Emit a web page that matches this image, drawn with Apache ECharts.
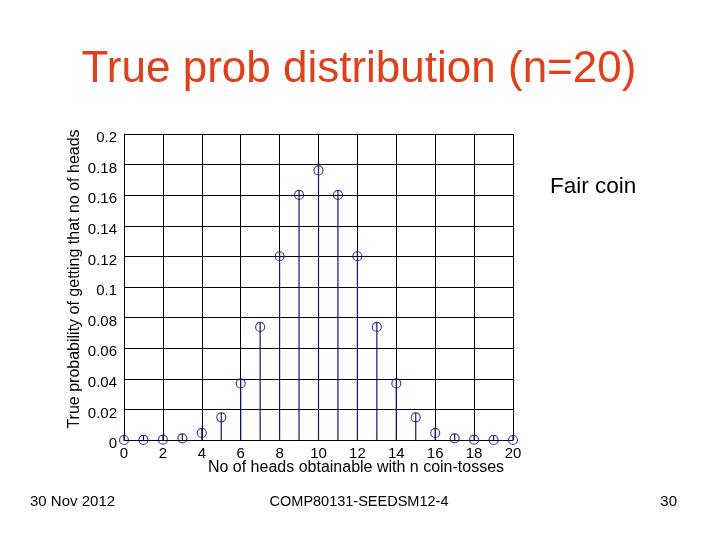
<!DOCTYPE html>
<html><head><meta charset="utf-8">
<script src="https://cdn.jsdelivr.net/npm/echarts@6/dist/echarts.min.js"></script>
<style>html,body{margin:0;padding:0;background:#fff}#c{width:720px;height:540px}</style>
</head><body><div id="c"></div>
<script>
const heads = [0,1,2,3,4,5,6,7,8,9,10,11,12,13,14,15,16,17,18,19,20];
const probs = [0.000001,0.00002,0.0002,0.0011,0.0046,0.0148,0.037,0.0739,0.1201,0.1602,0.1762,0.1602,0.1201,0.0739,0.037,0.0148,0.0046,0.0011,0.0002,0.00002,0.000001];
const titleText = 'True prob distribution (n=20)';
const yName = 'True probability of getting that no of heads';
const xName = 'No of heads obtainable with n coin-tosses';
const legendText = 'Fair coin';
const footLeft = '30 Nov 2012', footMid = 'COMP80131-SEEDSM12-4', footRight = '30';

const pts = heads.map((h,i)=>[h, probs[i]]);
const stemColor = '#14147a';
const font = 'Liberation Sans, Arial, sans-serif';
const chart = echarts.init(document.getElementById('c'));
chart.setOption({
  animation:false,
  backgroundColor:'#fff',
  textStyle:{fontFamily:font},
  graphic:[
    {type:'text',x:359,y:70,style:{text:titleText,fill:'#e0401c',font:'44px '+font,align:'center',verticalAlign:'middle'}},
    {type:'text',x:550,y:187,style:{text:legendText,fill:'#000',font:'22.5px '+font,verticalAlign:'middle'}},
    {type:'text',x:30,y:502,style:{text:footLeft,fill:'#000',font:'15px '+font,verticalAlign:'middle'}},
    {type:'text',x:359,y:502,style:{text:footMid,fill:'#000',font:'14.5px '+font,align:'center',verticalAlign:'middle'}},
    {type:'text',x:677,y:502,style:{text:footRight,fill:'#000',font:'15px '+font,align:'right',verticalAlign:'middle'}},
    {type:'text',x:356,y:468,style:{text:xName,fill:'#000',font:'16px '+font,align:'center',verticalAlign:'middle'}},
    {type:'text',x:75,y:279,rotation:Math.PI/2,style:{text:yName,fill:'#000',font:'16px '+font,align:'center',verticalAlign:'middle'}}
  ],
  grid:{left:124,right:207,top:134,bottom:100},
  xAxis:{type:'value',min:0,max:20,interval:2,
    axisLine:{lineStyle:{color:'#000',width:1}},axisTick:{show:false},
    axisLabel:{color:'#000',fontSize:15,margin:6,fontFamily:font},
    splitLine:{show:true,lineStyle:{color:'#000',width:1}}},
  yAxis:{type:'value',min:0,max:0.2,interval:0.02,
    axisLine:{show:true,lineStyle:{color:'#000',width:1}},axisTick:{show:false},
    axisLabel:{color:'#000',fontSize:15,margin:7,fontFamily:font,verticalAlign:'top',lineHeight:8,formatter:v=>String(+v.toFixed(2))},
    splitLine:{show:true,lineStyle:{color:'#000',width:1}}},
  series:[
    {type:'custom',data:pts,z:3,renderItem:(params,api)=>{
      const p0=api.coord([api.value(0),0]);const p1=api.coord([api.value(0),api.value(1)]);
      return {type:'line',shape:{x1:p0[0],y1:p0[1],x2:p1[0],y2:p1[1]-4.5},style:{stroke:stemColor,lineWidth:1.2}};
    }},
    {type:'scatter',data:pts,z:4,symbol:'circle',symbolSize:9,
     itemStyle:{color:'rgba(0,0,0,0)',borderColor:stemColor,borderWidth:1.2}}
  ]
});
</script></body></html>
